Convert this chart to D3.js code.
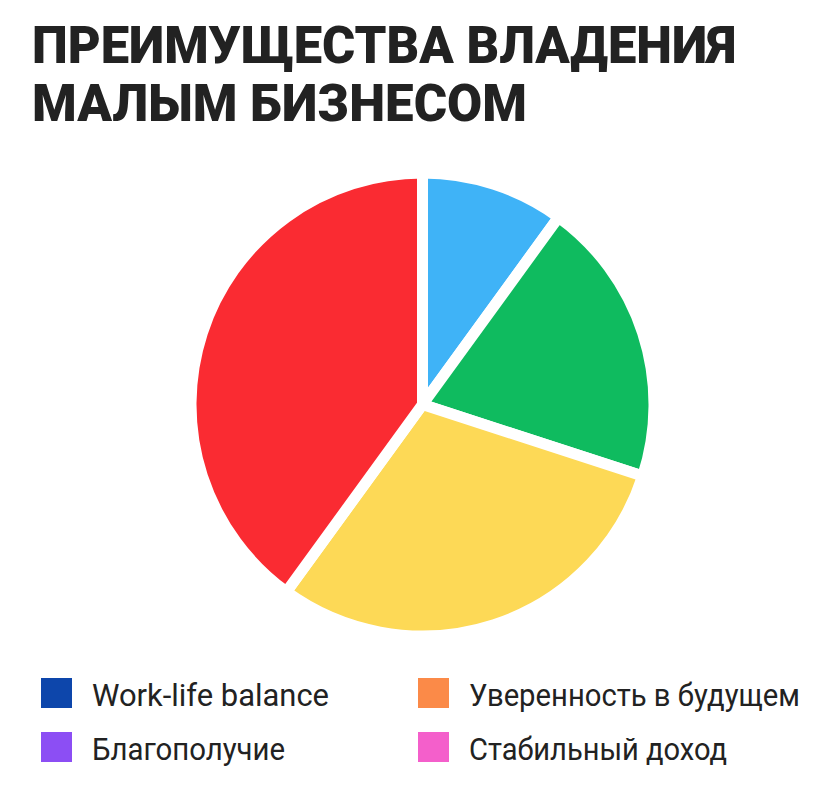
<!DOCTYPE html>
<html>
<head>
<meta charset="utf-8">
<script src="https://cdn.jsdelivr.net/npm/d3@7"></script>
<style>
  html, body { margin: 0; padding: 0; background: #ffffff; }
  svg { display: block; }
</style>
</head>
<body>
<svg id="chart" width="828" height="793"></svg>
<script>
// ---- data ----
const titleLines = ["ПРЕИМУЩЕСТВА ВЛАДЕНИЯ", "МАЛЫМ БИЗНЕСОМ"];
const sliceValues = [10, 20, 30, 40];
const sliceColors = ["#3fb3f7", "#0fbb5f", "#fdd956", "#fa2b32"];
const legendLabels = ["Work-life balance", "Благополучие", "Уверенность в будущем", "Стабильный доход"];
const legendColors = ["#0d46ab", "#8c4ef4", "#fb8a48", "#f45fcb"];

// ---- layout ----
const svg = d3.select("#chart");
const W = 828, H = 793;
svg.append("rect").attr("width", W).attr("height", H).attr("fill", "#fff");

// title
const titleWidths = [704, 495];
const titleBaselines = [63, 121];
svg.selectAll("text.title")
  .data(titleLines)
  .join("text")
  .attr("class", "title")
  .attr("x", 32)
  .attr("y", (d, i) => titleBaselines[i])
  .attr("textLength", (d, i) => titleWidths[i])
  .attr("lengthAdjust", "spacingAndGlyphs")
  .attr("font-family", "Roboto, 'Open Sans', 'DejaVu Sans', sans-serif")
  .attr("font-weight", 900)
  .attr("font-size", 51)
  .attr("fill", "#222222")
  .text(d => d);

// pie
const cx = 422.5, cy = 404.5, gap = 11, R = 226;
const pie = d3.pie().sort(null).value(d => d).startAngle(0).endAngle(2 * Math.PI);
const arc = d3.arc().innerRadius(0).outerRadius(R + gap / 2);
const g = svg.append("g").attr("transform", `translate(${cx},${cy})`);
g.selectAll("path.slice")
  .data(pie(sliceValues))
  .join("path")
  .attr("class", "slice")
  .attr("d", arc)
  .attr("fill", (d, i) => sliceColors[i])
  .attr("stroke", "#ffffff")
  .attr("stroke-width", gap)
  .attr("stroke-linejoin", "miter");

// legend
const colX = [41, 418];
const rowY = [678, 732];
const textWidths = [237, 193, 331, 258];
const legend = svg.append("g");
const items = legend.selectAll("g.item")
  .data(legendLabels)
  .join("g")
  .attr("class", "item")
  .attr("transform", (d, i) => `translate(${colX[Math.floor(i / 2)]},${rowY[i % 2]})`);
items.append("rect")
  .attr("width", 31)
  .attr("height", 30)
  .attr("fill", (d, i) => legendColors[i]);
items.append("text")
  .attr("x", 51)
  .attr("y", 28)
  .attr("textLength", (d, i) => textWidths[i])
  .attr("lengthAdjust", "spacingAndGlyphs")
  .attr("font-family", "Roboto, 'Open Sans', 'DejaVu Sans', sans-serif")
  .attr("font-weight", 400)
  .attr("font-size", 31)
  .attr("fill", "#222222")
  .text(d => d);
</script>
</body>
</html>
